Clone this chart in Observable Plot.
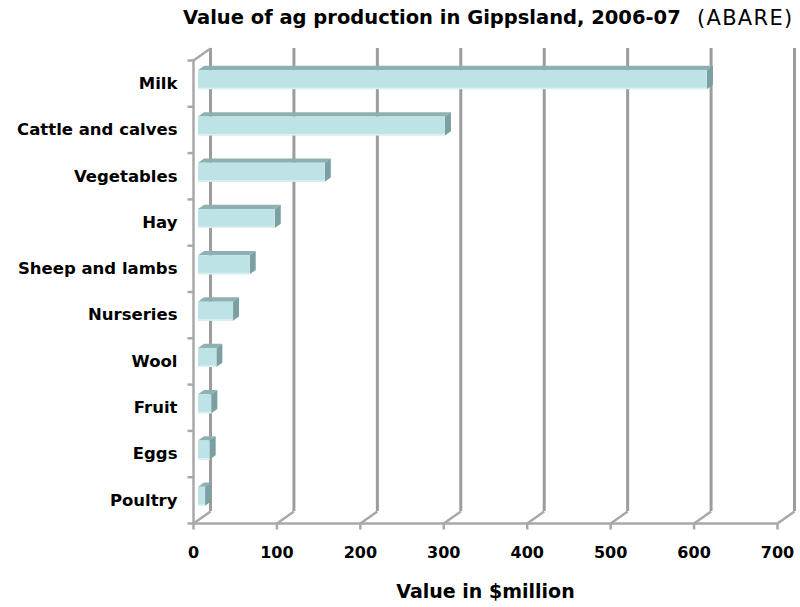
<!DOCTYPE html>
<html><head><meta charset="utf-8">
<script src="https://cdn.jsdelivr.net/npm/d3@7"></script>
<script src="https://cdn.jsdelivr.net/npm/@observablehq/plot@0.6"></script>
<style>
html,body{margin:0;padding:0;background:#fff;}
#title{position:relative;height:40px;width:800px;font-family:"DejaVu Sans",sans-serif;color:#000;}
#title .main{position:absolute;left:183px;top:8px;font-size:19.5px;font-weight:bold;line-height:20px;white-space:nowrap;}
#title .src{position:absolute;left:697px;top:8px;font-size:21px;font-weight:normal;letter-spacing:1.3px;line-height:20px;white-space:nowrap;}
</style></head><body>
<div id="title"><span class="main">Value of ag production in Gippsland, 2006-07</span><span class="src">(ABARE)</span></div>
<div id="chart"></div>
<script>
const categories = ["Milk","Cattle and calves","Vegetables","Hay","Sheep and lambs","Nurseries","Wool","Fruit","Eggs","Poultry"];
const values = [610, 296, 152, 92, 62, 42, 22, 16, 14, 8.5];
const xTicks = [0, 100, 200, 300, 400, 500, 600, 700];
const xLabel = "Value in $million";

const W = 800, H = 567;
const mL = 193, mR = 23, mT = 20, mB = 84;
const xMax = 700;
const n = categories.length;
const pxX = xMax / (W - mL - mR);   // data units per pixel (x)
const pxY = n / (H - mT - mB);      // data units per pixel (y)

// oblique projection (pixels)
const wallDX = 17, wallDY = 12;     // wall depth
const barOffX = 5, barOffY = -3.5;  // bar front plane offset
const barDX = 6, barDY = 4.3;       // bar depth
const barH = 19 * pxY;              // bar height in units

const rows = categories.map((c, i) => ({cat: c, i, v: values[i]}));
const topFace = rows.flatMap(r => [
  {cat: r.cat, y: r.i - barH / 2, x1: 0, x2: r.v},
  {cat: r.cat, y: r.i - barH / 2 - barDY * pxY, x1: barDX * pxX, x2: r.v + barDX * pxX}
]);
const sideFace = rows.flatMap(r => [
  {cat: r.cat, x: r.v, y1: r.i - barH / 2, y2: r.i + barH / 2},
  {cat: r.cat, x: r.v + barDX * pxX, y1: r.i - barH / 2 - barDY * pxY, y2: r.i + barH / 2 - barDY * pxY}
]);
const bounds = d3.range(n + 1).map(k => k - 0.5);
const yBottom = n - 0.5, yTop = -0.5;

const gridC = "#9c9c9c", axisC = "#a8a8a8";
const font = "DejaVu Sans, sans-serif";

const chart = Plot.plot({
  width: W, height: H,
  marginLeft: mL, marginRight: mR, marginTop: mT, marginBottom: mB,
  x: {domain: [0, xMax], axis: null},
  y: {domain: [yBottom, yTop], axis: null},
  style: {fontFamily: font, background: "#fff", color: "#000"},
  marks: [
    // back wall gridlines
    Plot.ruleX(xTicks, {x: d => d, y1: yBottom, y2: yTop, dx: wallDX, dy: -wallDY, stroke: gridC, strokeWidth: 3}),
    // floor depth lines
    Plot.link(xTicks, {x1: d => d, y1: yBottom, x2: d => d + wallDX * pxX, y2: yBottom - wallDY * pxY, stroke: axisC, strokeWidth: 2.5}),
    // top-left wall depth line
    Plot.link([0], {x1: 0, y1: yTop, x2: wallDX * pxX, y2: yTop - wallDY * pxY, stroke: axisC, strokeWidth: 2.5}),
    // front left wall edge
    Plot.ruleX([0], {y1: yTop, y2: yBottom, stroke: axisC, strokeWidth: 2.5}),
    // floor front edge
    Plot.ruleY([yBottom], {x1: 0, x2: xMax, stroke: axisC, strokeWidth: 2.5}),
    // x ticks (down)
    Plot.link(xTicks, {x1: d => d, x2: d => d, y1: yBottom, y2: yBottom + 6 * pxY, stroke: axisC, strokeWidth: 2.5}),
    // y boundary ticks (left)
    Plot.link(bounds, {x1: 0, x2: -6 * pxX, y1: d => d, y2: d => d, stroke: axisC, strokeWidth: 2.5}),
    // bars: top face
    Plot.areaX(topFace, {y: "y", x1: "x1", x2: "x2", z: "cat", fill: "#8fb0b2", dx: barOffX, dy: barOffY}),
    // bars: side face
    Plot.areaY(sideFace, {x: "x", y1: "y1", y2: "y2", z: "cat", fill: "#7c9fa1", dx: barOffX, dy: barOffY}),
    // bars: front face
    Plot.rect(rows, {x1: 0, x2: "v", y1: r => r.i - barH / 2, y2: r => r.i + barH / 2, fill: "#bde3e6", dx: barOffX, dy: barOffY}),
    Plot.rect(rows, {x1: 0, x2: "v", y1: r => r.i + barH / 2 - 1.5 * pxY, y2: r => r.i + barH / 2, fill: "#dcf0f1", dx: barOffX, dy: barOffY}),
    // category labels
    Plot.text(rows, {x: 0, y: "i", text: "cat", textAnchor: "end", dx: -16, fontSize: 16.5, fontWeight: "bold", fill: "#000"}),
    // x tick labels
    Plot.text(xTicks, {x: d => d, y: yBottom, text: d => String(d), dy: 29, lineAnchor: "middle", fontSize: 16, fontWeight: "bold", fill: "#000"}),
    // x axis title
    Plot.text([xLabel], {frameAnchor: "bottom", dy: 68, lineAnchor: "middle", fontSize: 19, fontWeight: "bold", fill: "#000"})
  ]
});
document.getElementById("chart").appendChild(chart);
</script>
</body></html>
